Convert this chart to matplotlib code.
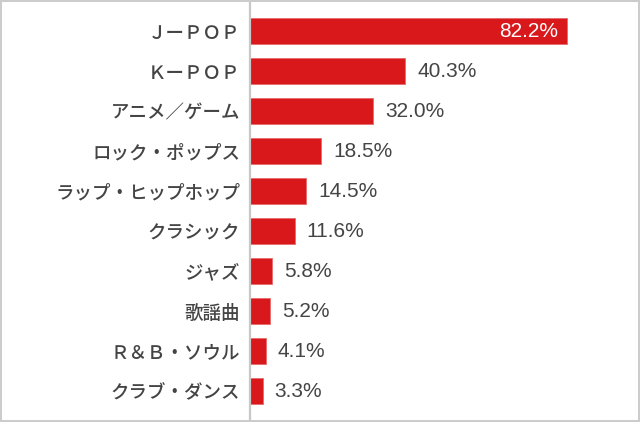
import matplotlib
matplotlib.use("Agg")
import matplotlib.pyplot as plt
from matplotlib.patches import Rectangle
from matplotlib.transforms import offset_copy

plt.rcParams['font.family'] = ['Noto Sans CJK JP', 'DejaVu Sans']

categories = ["ＪーＰＯＰ", "ＫーＰＯＰ", "アニメ／ゲーム", "ロック・ポップス",
              "ラップ・ヒップホップ", "クラシック", "ジャズ", "歌謡曲",
              "Ｒ＆Ｂ・ソウル", "クラブ・ダンス"]
values = [82.2, 40.3, 32.0, 18.5, 14.5, 11.6, 5.8, 5.2, 4.1, 3.3]
value_labels = ["82.2%", "40.3%", "32.0%", "18.5%", "14.5%", "11.6%",
                "5.8%", "5.2%", "4.1%", "3.3%"]

W, H = 640, 422
fig = plt.figure(figsize=(W / 100, H / 100), dpi=100)
ax = fig.add_axes([250 / W, 2 / H, 380 / W, 418 / H])

bar_color = "#d8181b"
text_color = "#444444"
pos = list(range(len(categories)))
ax.barh(pos, values, height=0.63, color=bar_color, edgecolor="#e46a6c", linewidth=0.6)

ax.set_xlim(0, 380 / 3.857)
top_px, bot_px = 2, 420
ax.set_ylim((bot_px - 31) / 40, (top_px - 31) / 40)

for s in ["top", "right", "bottom"]:
    ax.spines[s].set_visible(False)
ax.spines["left"].set_color("#c8c8c8")
ax.spines["left"].set_linewidth(1.6)
ax.set_xticks([])
ax.set_yticks(pos)
ax.set_yticklabels(categories, fontsize=13.3, color=text_color, fontweight="medium")
ax.tick_params(axis="y", length=0, pad=7)

for i, (v, lab) in enumerate(zip(values, value_labels)):
    if i == 0:
        t = offset_copy(ax.transData, fig=fig, x=-9, y=0, units="dots")
        ax.text(v, i, lab, ha="right", va="center", color="white", fontsize=15,
                family=["Liberation Sans", "DejaVu Sans"], transform=t)
    else:
        t = offset_copy(ax.transData, fig=fig, x=12, y=0, units="dots")
        ax.text(v, i, lab, ha="left", va="center", color=text_color, fontsize=15,
                family=["Liberation Sans", "DejaVu Sans"], transform=t)

fig.patches.append(Rectangle((0, 0), 1, 1, transform=fig.transFigure, fill=False,
                             edgecolor="#cccccc", linewidth=2.9, zorder=10))

fig.savefig("out.png", dpi=100, facecolor="white")
